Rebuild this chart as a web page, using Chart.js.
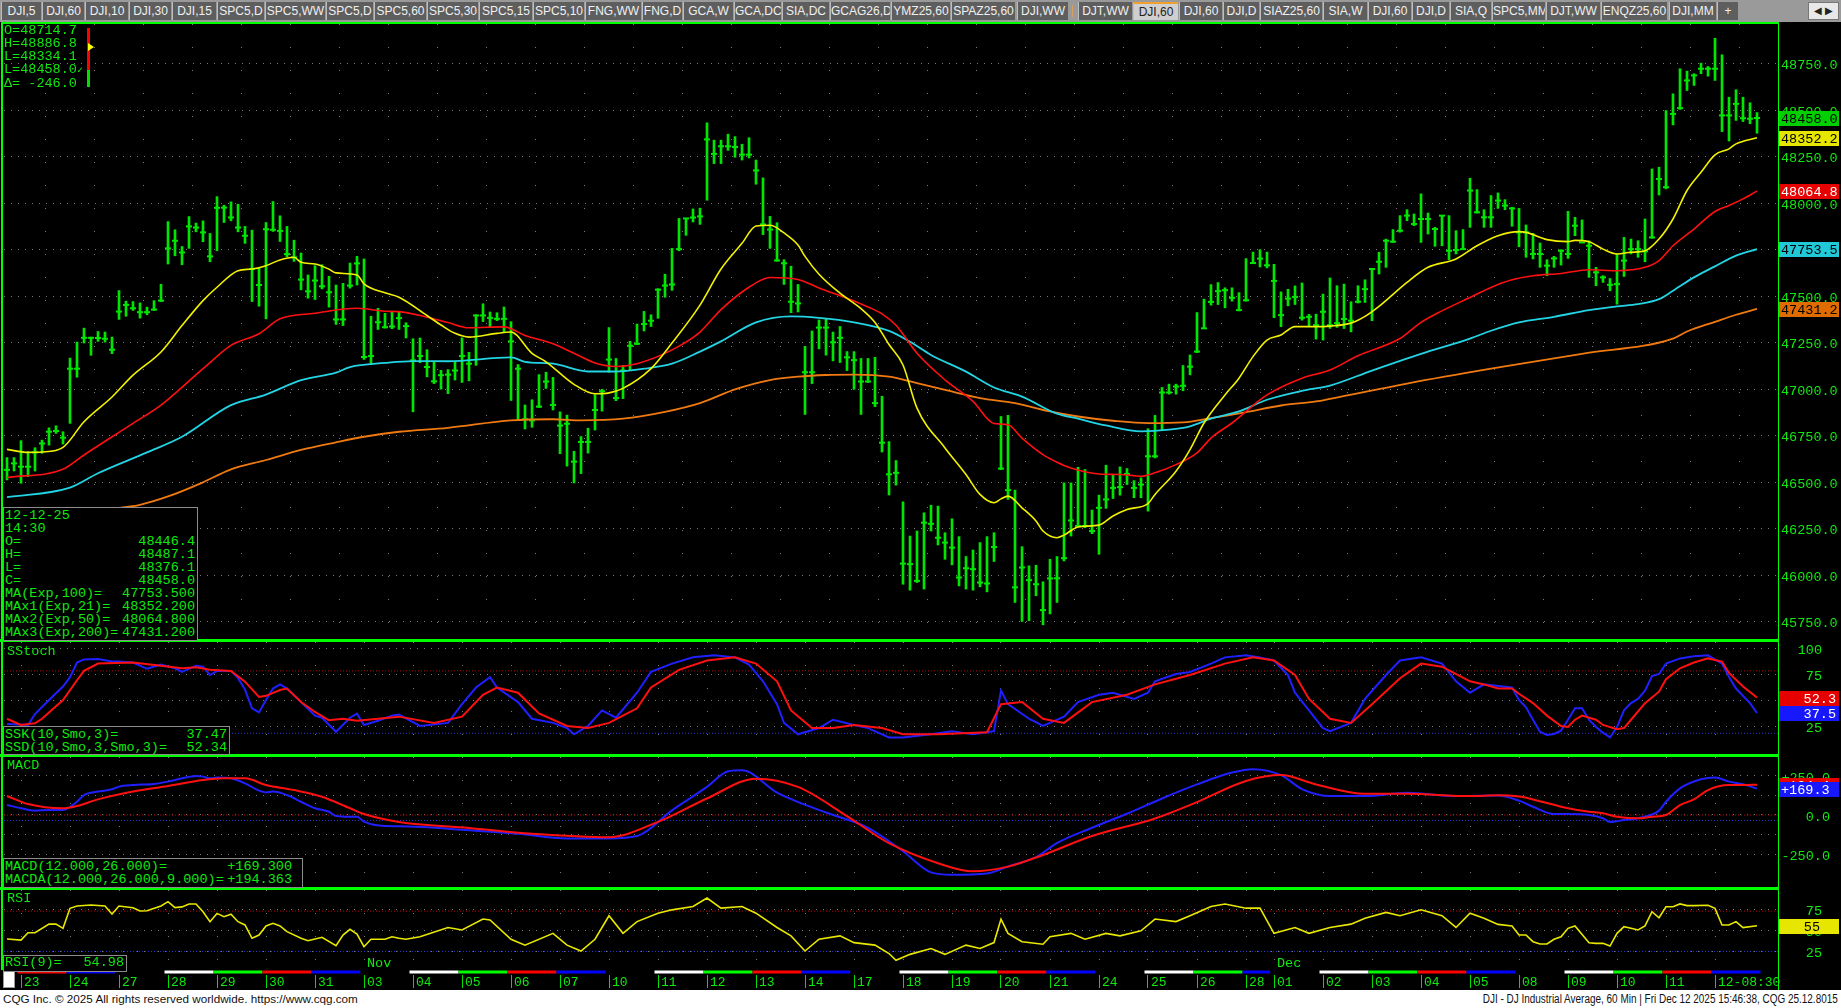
<!DOCTYPE html>
<html>
<head>
<meta charset="utf-8">
<title>DJI 60 Min</title>
<script src="https://cdn.jsdelivr.net/npm/chart.js@4.4.1/dist/chart.umd.min.js"></script>
<style>
  html, body { margin: 0; padding: 0; background: #000; }
  body { position: relative; width: 1841px; height: 1008px; overflow: hidden; font-family: "Liberation Mono", "DejaVu Sans Mono", monospace; }
  canvas { position: absolute; left: 0; }
  .ln { position: absolute; background: #00ff00; }
  .txt { position: absolute; color: #10e810; font-size: 13.5px; line-height: 13px; white-space: pre; }
  .box { position: absolute; background: #000; border: 1px solid #8c8c8c; box-sizing: border-box; color: #10e810; font-size: 13.5px; line-height: 13px; white-space: nowrap; padding: 0 2px 0 1px; }
  .row { display: flex; justify-content: space-between; }
  #tabs { position: absolute; left: 0; top: 0; width: 1841px; height: 22px; background: #9a9a9a; }
  .tab { position: absolute; top: 2px; height: 18px; background: #5e5e5e; color: #f0f0f0; font: 12px "Liberation Sans Narrow", "Liberation Sans", sans-serif; line-height: 18px; text-align: center; border-left: 1px solid #bdbdbd; box-sizing: border-box; overflow: hidden; white-space: nowrap; }
  .tab.sel { background: #cfcfcf; color: #222; border-top: 2px solid #f0a030; line-height: 16px; }
  #foot { position: absolute; left: 0; top: 990px; width: 1841px; height: 18px; background: #fff; color: #111; font: 11.7px "Liberation Sans", sans-serif; line-height: 18px; }
</style>
</head>
<body>
<div id="tabs"></div>

<canvas id="cMain" width="1841" height="616" style="top:24px"></canvas>
<canvas id="cStoch" width="1841" height="112" style="top:642px"></canvas>
<canvas id="cMacd" width="1841" height="130" style="top:757px"></canvas>
<canvas id="cRsi" width="1841" height="80" style="top:890px"></canvas>
<canvas id="cStrip" width="1841" height="21" style="top:969px"></canvas>

<!-- panel frame -->
<div class="ln" style="left:1px;top:22px;width:1778px;height:2px"></div>
<div class="ln" style="left:1px;top:22px;width:2px;height:948px"></div>
<div class="ln" style="left:1778px;top:22px;width:1px;height:968px"></div>
<div class="ln" style="left:0;top:639px;width:1779px;height:3px"></div>
<div class="ln" style="left:0;top:754px;width:1779px;height:3px"></div>
<div class="ln" style="left:0;top:887px;width:1779px;height:3px"></div>
<div style="position:absolute;left:3px;top:970px;width:12px;height:18px;background:#fff;border:1px solid #999;box-sizing:border-box"></div>

<!-- top-left quote -->
<div class="txt" style="left:4px;top:24px">O=48714.7
H=48886.8
L=48334.1
L=48458.0<span style="font-size:10px">✓</span>
Δ= -246.0</div>
<div style="position:absolute;left:87px;top:28px;width:3px;height:42px;background:#ff0000"></div>
<div style="position:absolute;left:87px;top:70px;width:3px;height:17px;background:#00e000"></div>
<div style="position:absolute;left:88px;top:43px;width:0;height:0;border-left:6px solid #ffff00;border-top:4px solid transparent;border-bottom:4px solid transparent"></div>

<!-- main legend -->
<div class="box" style="left:3px;top:507px;width:195px;height:134px;padding-top:1px">
<div>12-12-25</div><div>14:30</div>
<div class="row"><span>O=</span><span>48446.4</span></div>
<div class="row"><span>H=</span><span>48487.1</span></div>
<div class="row"><span>L=</span><span>48376.1</span></div>
<div class="row"><span>C=</span><span>48458.0</span></div>
<div class="row"><span>MA(Exp,100)=</span><span>47753.500</span></div>
<div class="row"><span>MAx1(Exp,21)=</span><span>48352.200</span></div>
<div class="row"><span>MAx2(Exp,50)=</span><span>48064.800</span></div>
<div class="row"><span>MAx3(Exp,200)=</span><span>47431.200</span></div>
</div>

<div class="txt" style="left:7px;top:645px">SStoch</div>
<div class="box" style="left:3px;top:726px;width:227px;height:29px;padding-top:1px">
<div class="row"><span>SSK(10,Smo,3)=</span><span>37.47</span></div>
<div class="row"><span>SSD(10,Smo,3,Smo,3)=</span><span>52.34</span></div>
</div>

<div class="txt" style="left:7px;top:759px">MACD</div>
<div class="box" style="left:3px;top:858px;width:300px;height:30px;padding-top:1px;padding-right:10px">
<div class="row"><span>MACD(12.000,26.000)=</span><span>+169.300</span></div>
<div class="row"><span>MACDA(12.000,26.000,9.000)=</span><span>+194.363</span></div>
</div>

<div class="txt" style="left:7px;top:892px">RSI</div>
<div class="box" style="left:3px;top:955px;width:124px;height:17px">
<div class="row"><span>RSI(9)=</span><span>54.98</span></div>
</div>

<div id="foot">
  <span style="position:absolute;left:3px">CQG Inc. © 2025 All rights reserved worldwide. https://www.cqg.com</span>
  <span style="position:absolute;right:3px;font-size:12px;transform:scaleX(0.83);transform-origin:right center">DJI - DJ Industrial Average, 60 Min | Fri Dec 12 2025 15:46:38, CQG 25.12.8015</span>
</div>

<script>
// ---- bars (hourly, index 0 = Oct 22 14:30) ----
const highs = [46632,46632,46723,46664,46685,46726,46792,46803,46771,47167,47253,47328,47280,47310,47307,47280,47530,47473,47471,47464,
  47441,47476,47564,47901,47857,47767,47928,47893,47905,47837,48035,47989,48007,47994,47875,47855,47650,47896,48009,47932,
  47875,47801,47732,47614,47664,47669,47607,47560,47569,47678,47714,47700,47392,47435,47408,47414,47414,47357,47271,47275,
  47212,47146,47101,47105,47147,47276,47198,47400,47459,47415,47411,47442,47363,47132,46915,46943,47078,47091,47063,46878,
  46860,46666,46745,46790,46971,46999,47331,47165,47128,47257,47350,47418,47400,47540,47618,47757,47918,47918,47969,47973,
  48432,48339,48339,48371,48358,48317,48352,48232,48136,47929,47895,47696,47661,47563,47230,47313,47372,47378,47307,47337,
  47202,47202,47165,47165,47171,46962,46718,46616,46394,46210,46237,46335,46376,46371,46228,46303,46207,46100,46135,46175,
  46207,46228,46853,46859,46457,46153,46050,46053,45964,46085,46100,46496,46496,46580,46568,46350,46430,46591,46537,46582,
  46573,46508,46523,46787,46859,47009,47027,47027,47127,47184,47412,47484,47562,47573,47545,47545,47519,47702,47737,47750,
  47737,47671,47523,47537,47555,47571,47402,47403,47511,47598,47556,47565,47470,47556,47588,47649,47736,47807,47858,47933,
  47965,47942,48050,47947,47870,47933,47933,47852,47858,48134,48073,47965,48041,48055,48019,47978,47972,47883,47838,47786,
  47696,47714,47750,47956,47924,47910,47798,47655,47610,47595,47727,47816,47807,47798,47915,48184,48193,48498,48588,48723,
  48710,48696,48753,48735,48886.8,48798,48570,48610,48570,48540,48487.1];
const lows = [46512,46560,46494,46530,46560,46655,46699,46762,46705,46816,47064,47248,47182,47257,47253,47191,47375,47392,47423,47382,
  47400,47423,47471,47673,47717,47669,47757,47846,47793,47685,47744,47896,47905,47846,47784,47471,47446,47378,47848,47794,
  47712,47687,47534,47489,47482,47539,47441,47348,47342,47543,47560,47160,47132,47321,47328,47325,47321,47275,46878,47142,
  47066,47030,47000,46976,47049,47036,47045,47128,47363,47331,47368,47304,46939,46838,46786,46795,46901,47004,46888,46653,
  46586,46496,46546,46656,46780,46882,47091,46938,46949,47104,47239,47313,47337,47381,47494,47531,47744,47827,47899,47886,
  48016,48213,48213,48284,48247,48232,48243,48102,47831,47757,47688,47563,47411,47415,46864,47030,47217,47183,47152,47143,
  47100,46999,46864,47036,46906,46662,46431,46484,45951,45919,45960,45925,46237,46162,46085,46055,45942,45925,45919,45937,
  45910,46073,46567,46407,45853,45751,45755,45889,45733,45791,45853,46076,46210,46268,46255,46223,46112,46359,46412,46430,
  46487,46416,46416,46344,46630,46777,46973,46973,46991,47077,47196,47327,47452,47455,47437,47473,47421,47473,47675,47657,
  47652,47384,47336,47448,47455,47371,47341,47269,47264,47327,47332,47326,47308,47463,47466,47368,47619,47655,47789,47844,
  47906,47879,47789,47834,47768,47771,47696,47727,47750,47870,47947,47870,47870,47972,47965,47876,47766,47709,47700,47655,
  47610,47655,47667,47703,47825,47798,47601,47556,47574,47529,47457,47606,47727,47709,47685,47811,48044,48077,48421,48504,
  48606,48633,48696,48683,48660,48385,48334.1,48445,48439,48427,48376.1];
const closes = [46566,46601,46583,46583,46660,46708,46771,46775,46739,47110,47110,47276,47276,47275,47271,47212,47417,47453,47435,47414,
  47414,47428,47476,47757,47798,47735,47875,47869,47843,47714,47975,47976,47923,47869,47825,47646,47560,47860,47857,47851,
  47726,47709,47589,47526,47584,47553,47521,47375,47375,47557,47676,47173,47178,47360,47333,47337,47382,47339,47155,47178,
  47119,47042,47075,47078,47100,47178,47137,47396,47396,47383,47378,47378,47257,47110,46838,46832,46906,47041,46915,46804,
  46814,46610,46716,46716,46888,46989,47159,46952,47100,47233,47244,47350,47368,47535,47557,47563,47753,47918,47923,47929,
  48343,48265,48306,48306,48302,48261,48261,48176,47886,47858,47692,47677,47470,47461,47091,47091,47331,47331,47252,47276,
  47171,47156,47041,47041,46925,46712,46542,46550,46062,46059,45969,46282,46276,46201,46175,46148,45987,46037,46032,45960,
  45955,46151,46573,46457,45934,46041,45973,45951,45812,45982,45983,46091,46294,46264,46264,46237,46362,46407,46469,46473,
  46544,46469,46487,46639,46639,46982,46982,47014,47018,47121,47202,47327,47469,47527,47532,47491,47425,47478,47678,47702,
  47666,47582,47398,47487,47496,47384,47389,47344,47416,47344,47355,47377,47368,47470,47538,47646,47685,47798,47793,47852,
  47933,47888,47915,47915,47861,47933,47744,47748,47753,48068,47951,47924,47924,48014,47987,47972,47843,47843,47727,47727,
  47664,47703,47744,47727,47879,47789,47771,47628,47601,47561,47565,47691,47753,47753,47741,47816,48130,48086,48480,48511,
  48660,48687,48723,48723,48723,48472,48472,48534,48457,48454,48458.0];

// ---- moving averages [bar index, value] ----
const ema21 = [[0,46676],[3,46660],[5,46662],[8,46687],[11,46825],[15,46958],[18,47075],[22,47200],[25,47342],[28,47476],[30,47548],
  [33,47637],[35,47646],[37,47664],[39,47695],[41,47709],[42,47682],[44,47673],[46,47645],[47,47625],[50,47614],[51,47566],[54,47518],
  [56,47494],[60,47396],[62,47345],[64,47300],[66,47280],[70,47300],[72,47307],[75,47193],[77,47147],[81,47026],[84,46975],[86,46980],
  [88,47004],[92,47110],[95,47248],[99,47452],[102,47646],[105,47784],[107,47877],[109,47881],[111,47840],[113,47775],[114,47714],
  [116,47618],[119,47516],[122,47433],[124,47359],[126,47240],[128,47130],[130,46898],[134,46684],[137,46541],[139,46434],[141,46389],
  [142,46410],[143,46425],[145,46362],[147,46291],[148,46237],[150,46201],[151,46215],[153,46259],[156,46269],[158,46318],[160,46353],
  [163,46385],[164,46434],[167,46559],[169,46675],[171,46818],[174,46969],[176,47059],[178,47175],[180,47264],[182,47291],[184,47336],
  [187,47336],[189,47339],[192,47355],[194,47391],[196,47445],[200,47574],[203,47655],[207,47700],[210,47771],[213,47825],[216,47847],
  [217,47843],[220,47804],[223,47793],[224,47800],[226,47793],[228,47753],[230,47727],[232,47736],[234,47744],[236,47807],[238,47915],
  [240,48068],[242,48166],[244,48260],[246,48292],[247,48319],[250,48352.2]];
const ema50 = [[0,46525],[8,46569],[11,46646],[18,46816],[22,46914],[28,47110],[32,47235],[36,47298],[39,47378],[44,47408],[50,47435],
  [54,47419],[56,47417],[60,47387],[63,47358],[66,47330],[71,47335],[74,47289],[78,47244],[81,47193],[84,47141],[87,47122],[90,47137],
  [95,47211],[99,47307],[102,47428],[106,47548],[109,47600],[113,47590],[116,47544],[120,47489],[123,47442],[125,47405],[127,47344],
  [130,47193],[134,47050],[138,46934],[141,46815],[143,46809],[145,46737],[148,46648],[150,46607],[152,46576],[156,46544],[159,46541],
  [162,46532],[164,46550],[167,46594],[170,46657],[172,46737],[175,46818],[180,46969],[185,47059],[189,47103],[193,47180],[199,47272],
  [202,47359],[205,47421],[209,47493],[212,47547],[215,47588],[218,47610],[222,47622],[226,47642],[230,47637],[234,47655],[236,47691],
  [238,47771],[241,47861],[244,47955],[246,47987],[248,48023],[250,48064.8]];
const ema100 = [[0,46419],[9,46471],[13,46548],[20,46660],[25,46744],[32,46914],[37,46971],[42,47048],[47,47089],[49,47119],[54,47141],
  [58,47151],[63,47150],[72,47171],[74,47147],[78,47137],[83,47095],[87,47095],[91,47110],[95,47137],[99,47202],[102,47257],[107,47359],
  [112,47391],[116,47383],[121,47359],[126,47313],[129,47255],[132,47184],[137,47094],[141,47009],[145,46960],[150,46868],[153,46841],
  [157,46805],[162,46773],[166,46782],[169,46800],[172,46841],[176,46880],[180,46943],[185,46991],[189,47019],[195,47100],[202,47190],
  [209,47272],[212,47314],[216,47359],[221,47389],[226,47425],[230,47445],[233,47457],[236,47484],[238,47529],[241,47601],[244,47660],
  [247,47718],[250,47753.5]];
const ema200 = [[0,46200],[8,46285],[16,46360],[19,46378],[23,46423],[28,46499],[32,46569],[37,46619],[42,46673],[47,46714],[51,46744],
  [56,46771],[63,46792],[72,46832],[78,46838],[82,46832],[88,46841],[94,46878],[99,46925],[104,46999],[109,47049],[113,47067],[117,47076],
  [121,47078],[126,47067],[130,47032],[134,46996],[139,46952],[144,46925],[149,46880],[153,46853],[158,46830],[163,46817],[168,46821],
  [172,46844],[177,46876],[182,46912],[187,46934],[189,46948],[200,47030],[212,47110],[225,47190],[238,47272],[240,47310],[244,47362],
  [247,47400],[250,47431.2]];

// ---- studies [bar index, value] ----
const stochK = [[0,27],[3,26],[4,36.5],[6,50],[8,63],[9,72],[10,86],[11,89],[13,89.5],[15,87],[16,87],[18,86],[20,80],[22,84],[24,80.5],
  [25,77],[27,83],[28,82],[29,74],[30,78],[32,78],[33,71],[34,60],[35,42],[36,38],[37,50],[38,61],[39,65],[40,61],[42,48],[44,35],[45,33],
  [47,19.5],[49,33],[50,37],[51,26],[53,30],[55,35],[56,36],[59,25],[63,28],[65,46],[67,62],[69,72],[70,62],[73,48],[75,32],[78,28],
  [80,23],[81,17],[83,25],[85,40],[87,33],[90,57],[92,77],[95,85],[98,91],[101,93],[104,91],[106,84],[108,68],[110,46],[111,28],[113,17],
  [116,23],[118,31],[121,26],[123,23],[126,14],[128,14],[132,17],[135,20],[138,17],[141,20],[142,59],[143,46],[146,32],[148,25],[151,34],
  [153,48],[156,55],[158,57],[161,51],[163,57],[164,68],[167,75],[169,77],[172,85],[174,91],[177,93],[179,91],[181,88],[183,74],[184,57],
  [186,40],[188,23],[189,20],[192,28],[194,51],[197,74],[199,88],[202,91],[205,85],[207,68],[209,57],[211,65],[213,63.5],[215,62],[216,50],
  [217,43],[218,31],[219,19.5],[220,16.3],[221,17.3],[222,20.5],[223,31],[224,42],[225,42],[226,31],[227,24],[228,18.6],[229,14],[230,24],
  [231,40],[232,47],[233,51],[234,59],[235,73],[236,75],[237,85],[239,90],[241,92],[243,93],[245,85],[246,72],[247,61],[249,47],[250,37.47]];
const stochD = [[0,32],[2,26],[4,27.6],[5,32],[8,50],[10,69],[11,78],[13,85],[18,86],[22,83],[25,80.5],[27,81.5],[29,79],[32,78],[34,67.6],
  [36,53],[37,54],[39,59.6],[40,61],[42,48],[44,38.5],[46,30.5],[48,32],[50,30],[56,34],[61,28],[65,34],[68,55],[70,62],[73,57],[76,37],
  [80,25],[83,23],[86,28],[90,42],[92,62],[96,79],[100,88],[104,91],[107,85],[110,68],[112,40],[115,23],[118,23],[121,26],[125,23],
  [128,17],[133,17],[140,19],[142,46],[145,48],[148,32],[151,28],[155,48],[160,55],[164,65],[169,74],[174,85],[178,91],[181,88],[184,74],
  [186,51],[189,32],[192,28],[195,46],[199,71],[202,85],[205,82],[209,68],[211,65],[213,61],[215,61],[216,56],[218,47],[220,35],[222,25],
  [223,24],[224,31],[225,35],[227,31],[228,26],[230,22],[231,23],[232,31],[234,47],[236,58],[237,70],[239,80.5],[241,86],[243,90],[245,87],
  [246,76],[248,63],[250,52.34]];
const macdLine = [[0,64],[2,43],[4,28],[6,32],[8,32],[10,85],[11,128],[13,150],[15,165],[16,182],[18,192],[21,199],[23,214],[25,235],
  [27,250],[28,246],[29,235],[30,241],[32,235],[34,203],[36,156],[37,145],[38,150],[40,128],[42,85],[44,43],[46,21],[47,-6],[49,-11],
  [50,-11],[51,-43],[54,-71],[56,-72],[66,-97],[73,-120],[80,-150],[86,-150],[90,-135],[95,30],[100,180],[103,280],[105,287],[110,144],
  [117,16],[123,-82],[128,-232],[132,-368],[135,-383],[140,-375],[143,-330],[147,-270],[150,-180],[155,-82],[160,8],[165,106],[170,196],
  [175,272],[178,294],[182,256],[185,166],[189,121],[194,121],[200,143],[207,121],[213,125],[216,92],[218,53],[221,6],[223,6],[226,0],
  [228,-21],[229,-45],[231,-32],[233,-21],[236,28],[237,85],[239,171],[242,229],[244,241],[246,214],[248,197],[250,169.3]];
const macdAvg = [[0,122],[3,70],[8,43],[10,58],[13,100],[18,150],[23,186],[28,224],[31,235],[34,235],[37,192],[41,160],[45,117],[49,43],
  [51,6],[56,-45],[66,-83],[75,-120],[86,-142],[93,-44],[100,106],[107,233],[113,180],[120,-7],[126,-181],[133,-309],[138,-361],[143,-331],
  [148,-256],[155,-135],[164,-22],[170,83],[177,218],[182,256],[187,196],[194,136],[200,136],[209,121],[213,126],[216,118],[218,100],
  [223,43],[226,21],[228,11],[230,-11],[233,-21],[235,-11],[237,0],[239,64],[241,100],[243,160],[246,192],[248,192],[250,194.363]];
const rsi9 = [[0,39.3],[2,38],[3,46.8],[4,46.8],[6,57],[7,57],[8,52],[9,75.8],[10,78.6],[12,79.8],[14,78.6],[15,69],[16,78.6],[18,76.6],
  [19,72.6],[20,73],[22,78.6],[23,83.7],[24,76.6],[25,77.5],[26,81],[27,81],[28,71.8],[29,59.9],[30,69.8],[31,65.9],[32,68.7],[33,59.9],
  [34,56],[35,40.1],[36,44],[37,54.8],[38,58],[39,54.8],[40,48],[42,40.1],[43,37.3],[45,41.3],[47,31.3],[48,44],[49,50.8],[50,45.2],
  [51,30.1],[52,38.9],[54,38.9],[55,42],[56,40.1],[57,39],[59,42],[63,53],[65,50],[68,63],[69,62],[72,39],[74,32],[78,46],[80,32],[82,25],
  [84,39],[86,67],[88,46],[90,60],[93,70],[95,74],[98,78],[100,88],[102,76],[105,78],[107,70],[110,53],[112,43],[114,25],[116,39],[119,43],
  [121,35],[124,32],[126,22],[127,14],[129,21],[132,28],[134,21],[137,32],[139,28],[141,35],[142,63],[143,46],[145,36],[148,33],[149,42],
  [152,46],[154,39],[157,46],[159,43],[162,49],[164,63],[167,60],[169,67],[172,78],[174,81],[177,76],[179,76],[181,46],[184,53],[186,46],
  [189,53],[192,57],[194,64],[197,71],[199,67],[202,74],[205,67],[207,53],[209,70],[211,64],[213,56.7],[215,54.8],[216,44],[217,44],
  [218,36.1],[219,33.3],[220,33.3],[221,38.9],[222,42],[223,52],[224,54.8],[226,34.9],[227,34.1],[228,34.1],[229,30.9],[230,46],[231,54],
  [232,52],[233,50],[234,54.8],[235,71.8],[236,64.6],[237,77.7],[238,77.7],[239,81],[240,79],[241,79],[243,79.5],[244,75.8],[245,56],
  [246,56],[247,60],[248,52.8],[250,54.98]];

// ---- axes ----
const dayStarts = [2,9,16,23,30,37,44,51,58,65,72,79,86,93,100,107,114,121,128,135,142,149,156,163,170,177,181,188,195,202,209,216,223,230,237,244];
const dayLabels = ['23','24','27','28','29','30','31','03','04','05','06','07','10','11','12','13','14','17','18','19','20','21','24','25','26','28',
  '01','02','03','04','05','08','09','10','11','12-08:30'];
const dayWeek = ['Th','Fr','Mo','Tu','We','Th','Fr','Mo','Tu','We','Th','Fr','Mo','Tu','We','Th','Fr','Mo','Tu','We','Th','Fr','Mo','Tu','We','Fr',
  'Mo','Tu','We','Th','Fr','Mo','Tu','We','Th','Fr'];
const monthStarts = [51, 181];
const monthLabels = ['Nov', 'Dec'];
const priceTicks = [45750,46000,46250,46500,46750,47000,47250,47500,47750,48000,48250,48500,48750];
const stochTicks = [25,50,75,100];
const macdTicks = [-250,-125,0,125,250];
const rsiTicks = [25,50,75];
const stochLevels = [78, 18];
const macdLevels = [0, -35];
const rsiLevels = [72.5, 24.5];

const weekColors = {Mo: '#000000', Tu: '#ffffff', We: '#00ff00', Th: '#ff0000', Fr: '#0000ff'};
const green = '#10e810';
const gridColor = '#7a7a7a';
const mono = '"Liberation Mono", "DejaVu Sans Mono", monospace';
const xMin = -3 / 7, xMax = 253;
const lastBar = closes.length - 1;

Chart.defaults.font.family = mono;

function pts(arr) { return arr.map(p => ({x: p[0], y: p[1]})); }
function level(v) { return [{x: xMin, y: v}, {x: xMax, y: v}]; }

function baseX() {
  return {
    type: 'linear', min: xMin, max: xMax, offset: false,
    afterBuildTicks: s => { s.ticks = dayStarts.map(v => ({value: v})); },
    afterFit: s => { s.height = 0; s.paddingLeft = 0; s.paddingRight = 0; },
    ticks: {display: false},
    grid: {color: gridColor, drawTicks: false, lineWidth: 1},
    border: {display: false, dash: [1, 22]}
  };
}
// axW = width of the label column, labels right-aligned at its far edge when cross = 'far'
function baseY(min, max, ticks, fmt, axW, cross) {
  return {
    type: 'linear', position: 'right', min: min, max: max,
    afterBuildTicks: s => { s.ticks = ticks.map(v => ({value: v})); },
    afterFit: s => { s.width = axW; s.paddingTop = 0; s.paddingBottom = 0; },
    ticks: {color: green, font: {family: mono, size: 13.5}, padding: 3, labelOffset: 2, crossAlign: cross, autoSkip: false, callback: fmt},
    grid: {color: gridColor, drawTicks: false, lineWidth: 1},
    border: {display: false, dash: [1, 6]}
  };
}
function baseOptions(scales, rightPad) {
  return {
    responsive: false, animation: false, events: [],
    layout: {padding: {left: 4, right: rightPad, top: 0, bottom: 0}, autoPadding: false},
    plugins: {legend: {display: false}, tooltip: {enabled: false}},
    scales: scales
  };
}

// value boxes on the price axis, read from the last point of a dataset
function valueBoxes(list) {
  return {
    id: 'valueBoxes',
    afterDraw(chart) {
      const ctx = chart.ctx, ys = chart.scales.y;
      list.forEach(b => {
        const data = chart.data.datasets[b.ds].data;
        const v = data[data.length - 1].y;
        const y = Math.round(ys.getPixelForValue(v));
        ctx.save();
        ctx.fillStyle = b.bg;
        ctx.fillRect(1779, y - 7, 60, 15);
        ctx.fillStyle = b.fg;
        ctx.font = '13.5px ' + mono;
        ctx.textBaseline = 'middle';
        ctx.textAlign = b.align;
        ctx.fillText(b.fmt(v), b.tx, y + 1);
        ctx.restore();
      });
    }
  };
}

function lineDs(arr, color, width, order, tension) {
  return {type: 'line', data: pts(arr), borderColor: color, borderWidth: width, pointRadius: 0,
    tension: tension, cubicInterpolationMode: tension ? 'monotone' : 'default', order: order};
}
function levelDs(v, color) {
  return {type: 'line', data: level(v), borderColor: color, borderWidth: 1, borderDash: [1, 2], pointRadius: 0, order: 20};
}

// ---- tabs ----
const tabs = [['DJI,5',1,40],['DJI,60',42,42],['DJI,10',85,43],['DJI,30',129,42],['DJI,15',172,44],['SPC5,D',217,47],['SPC5,WW',265,60],
  ['SPC5,D',326,47],['SPC5,60',374,52],['SPC5,30',427,51],['SPC5,15',479,53],['SPC5,10',533,51],['FNG,WW',585,56],['FNG,D',642,40],
  ['GCA,W',683,50],['GCA,DC',734,47],['SIA,DC',782,47],['GCAG26,D',830,60],['YMZ25,60',891,59],['SPAZ25,60',951,64],['DJI,WW',1017,51],
  ['DJT,WW',1078,54],['DJI,60',1133,45,1],['DJI,60',1179,43],['DJI,D',1223,36],['SIAZ25,60',1260,62],['SIA,W',1323,44],['DJI,60',1368,43],
  ['DJI,D',1412,37],['SIA,Q',1450,41],['SPC5,MM',1492,53],['DJT,WW',1546,54],['ENQZ25,60',1601,66],['DJI,MM',1669,47],['+',1717,21]];
const tabBar = document.getElementById('tabs');
tabs.forEach(t => {
  const d = document.createElement('div');
  d.className = 'tab' + (t[3] ? ' sel' : '');
  d.style.left = t[1] + 'px';
  d.style.width = t[2] + 'px';
  d.textContent = t[0];
  tabBar.appendChild(d);
});
const sep = document.createElement('div');
sep.style.cssText = 'position:absolute;left:1072px;top:5px;width:1px;height:12px;background:#d8a060';
tabBar.appendChild(sep);
const scroll = document.createElement('div');
scroll.style.cssText = 'position:absolute;left:1808px;top:2px;width:31px;height:18px;background:#e8e8e8;border:1px solid #777;box-sizing:border-box;font:10px sans-serif;line-height:16px;text-align:center;color:#222';
scroll.textContent = '◀ ▶';
tabBar.appendChild(scroll);

// ---- price panel ----
new Chart(document.getElementById('cMain'), {
  type: 'line',
  data: {datasets: [
    lineDs(ema21, '#f2f200', 1.6, 1, 0.4),
    lineDs(ema50, '#ff1010', 1.6, 2, 0.4),
    lineDs(ema100, '#22d4e4', 1.8, 3, 0.4),
    lineDs(ema200, '#f07a10', 1.8, 4, 0.4),
    {type: 'scatter', data: closes.map((c, k) => ({x: k, y: c})), showLine: false, pointStyle: 'line',
      pointRadius: 3, pointBorderWidth: 2, pointBorderColor: '#00e600', order: 5},
    {type: 'bar', data: highs.map((h, k) => ({x: k, y: [lows[k], h]})), backgroundColor: '#00e600',
      barThickness: 2, order: 6}
  ]},
  options: baseOptions({
    x: baseX(),
    y: baseY(48750 - (640 - 63.7) / 0.18597, 48750 + (63.7 - 24) / 0.18597, priceTicks, v => v.toFixed(1), 63, 'near')
  }, 0),
  plugins: [valueBoxes([
    {ds: 3, bg: '#e06c00', fg: '#000', align: 'left', tx: 1781, fmt: v => v.toFixed(1)},
    {ds: 2, bg: '#20c8d8', fg: '#000', align: 'left', tx: 1781, fmt: v => v.toFixed(1)},
    {ds: 1, bg: '#e60000', fg: '#fff', align: 'left', tx: 1781, fmt: v => v.toFixed(1)},
    {ds: 0, bg: '#e6e600', fg: '#000', align: 'left', tx: 1781, fmt: v => v.toFixed(1)},
    {ds: 4, bg: '#00d000', fg: '#000', align: 'left', tx: 1781, fmt: v => v.toFixed(1)}
  ])]
});

// ---- SStoch ----
new Chart(document.getElementById('cStoch'), {
  type: 'line',
  data: {datasets: [
    lineDs(stochK, '#2020ff', 2, 2, 0),
    lineDs(stochD, '#ff1010', 2, 1, 0),
    levelDs(stochLevels[0], '#c00000'),
    levelDs(stochLevels[1], '#3030e0')
  ]},
  options: baseOptions({
    x: baseX(),
    y: baseY(100 - (112 - 6) / 1.04, 100 + 6 / 1.04, stochTicks, v => String(v), 44, 'far')
  }, 19),
  plugins: [valueBoxes([
    {ds: 1, bg: '#e60000', fg: '#fff', align: 'right', tx: 1836, fmt: v => v.toFixed(1)},
    {ds: 0, bg: '#1818ff', fg: '#fff', align: 'right', tx: 1836, fmt: v => v.toFixed(1)}
  ])]
});

// ---- MACD ----
new Chart(document.getElementById('cMacd'), {
  type: 'line',
  data: {datasets: [
    lineDs(macdLine, '#2020ff', 2, 2, 0.2),
    lineDs(macdAvg, '#ff1010', 2, 1, 0.2),
    levelDs(macdLevels[0], '#c00000'),
    levelDs(macdLevels[1], '#3030e0')
  ]},
  options: baseOptions({
    x: baseX(),
    y: baseY(-(130 - 58) / 0.156, 58 / 0.156, macdTicks,
      v => (v % 250 !== 0 ? '' : (v > 0 ? '+' : '') + v.toFixed(1)), 52, 'far')
  }, 11),
  plugins: [valueBoxes([
    {ds: 1, bg: '#e60000', fg: '#fff', align: 'left', tx: 1781, fmt: v => (v > 0 ? '+' : '') + v.toFixed(1)},
    {ds: 0, bg: '#1818ff', fg: '#fff', align: 'left', tx: 1781, fmt: v => (v > 0 ? '+' : '') + v.toFixed(1)}
  ])]
});

// ---- RSI ----
const monthText = {
  id: 'monthText',
  afterDatasetsDraw(chart) {
    const ctx = chart.ctx, xs = chart.scales.x, b = chart.chartArea.bottom;
    ctx.save();
    ctx.fillStyle = green;
    ctx.font = '13.5px ' + mono;
    ctx.textBaseline = 'middle';
    monthStarts.forEach((v, k) => ctx.fillText(monthLabels[k], xs.getPixelForValue(v) + 3, b - 7));
    ctx.restore();
  }
};
new Chart(document.getElementById('cRsi'), {
  type: 'line',
  data: {datasets: [
    lineDs(rsi9, '#e8e800', 1.6, 1, 0),
    levelDs(rsiLevels[0], '#c00000'),
    levelDs(rsiLevels[1], '#3030e0')
  ]},
  options: baseOptions({
    x: baseX(),
    y: baseY(75 - 61 / 0.84, 75 + 19 / 0.84, rsiTicks, v => String(v), 44, 'far')
  }, 19),
  plugins: [monthText, valueBoxes([
    {ds: 0, bg: '#e6e600', fg: '#000', align: 'right', tx: 1820, fmt: v => Math.round(v).toString()}
  ])]
});

// ---- date strip ----
const stripPts = dayStarts.map(v => ({x: v - 0.5, y: 0.5})).concat([{x: lastBar + 0.5, y: 0.5}]);
new Chart(document.getElementById('cStrip'), {
  type: 'line',
  data: {datasets: [{
    data: stripPts, borderWidth: 3, pointRadius: 0, borderColor: '#00ff00',
    segment: {borderColor: c => weekColors[dayWeek[c.p0DataIndex]]}
  }]},
  options: {
    responsive: false, animation: false, events: [],
    layout: {padding: {left: 4, right: 63, top: 0, bottom: 0}, autoPadding: false},
    plugins: {legend: {display: false}, tooltip: {enabled: false}},
    scales: {
      x: {
        type: 'linear', min: xMin, max: xMax, offset: false, position: 'bottom',
        afterBuildTicks: s => { s.ticks = dayStarts.map(v => ({value: v})); },
        afterFit: s => { s.height = 15; s.paddingLeft = 0; s.paddingRight = 0; },
        ticks: {color: green, font: {family: mono, size: 13}, align: 'start', labelOffset: 3, padding: -13,
          autoSkip: false, maxRotation: 0, minRotation: 0, callback: (v, i) => dayLabels[i]},
        grid: {drawOnChartArea: false, drawTicks: true, tickLength: 13, tickColor: '#00e000', tickWidth: 1},
        border: {display: false}
      },
      y: {display: false, min: 0, max: 1}
    }
  }
});
</script>
</body>
</html>
